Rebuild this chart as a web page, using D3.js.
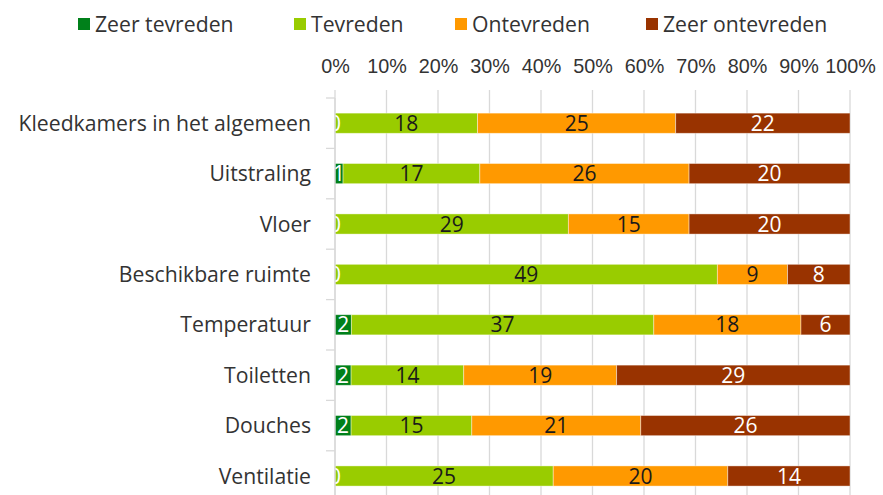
<!DOCTYPE html>
<html>
<head>
<meta charset="utf-8">
<script src="https://cdn.jsdelivr.net/npm/d3@7/dist/d3.min.js"></script>
<style>
  html, body { margin: 0; padding: 0; background: #fff; }
  svg { display: block; font-family: "Open Sans", "Noto Sans", sans-serif; }
</style>
</head>
<body>
<svg id="chart" width="883" height="495"></svg>
<script>
// Satisfaction counts per facility of the changing rooms
const categories = [
  "Kleedkamers in het algemeen",
  "Uitstraling",
  "Vloer",
  "Beschikbare ruimte",
  "Temperatuur",
  "Toiletten",
  "Douches",
  "Ventilatie"
];
const seriesNames = ["Zeer tevreden", "Tevreden", "Ontevreden", "Zeer ontevreden"];
const zeerTevreden   = [0, 1, 0, 0, 2, 2, 2, 0];
const tevreden       = [18, 17, 29, 49, 37, 14, 15, 25];
const ontevreden     = [25, 26, 15, 9, 18, 19, 21, 20];
const zeerOntevreden = [22, 20, 20, 8, 6, 29, 26, 14];
const tickValues = [0, 0.1, 0.2, 0.3, 0.4, 0.5, 0.6, 0.7, 0.8, 0.9, 1];

const colors = ["#00801a", "#99cc00", "#ff9900", "#993300"];
const labelColors = ["#ffffff", "#1a1a1a", "#1a1a1a", "#ffffff"];

const svg = d3.select("#chart");
const plotLeft = 335, plotRight = 850, plotTop = 98, rowH = 50.4;
const plotBottom = plotTop + rowH * categories.length;

const rows = categories.map((c, i) => {
  const vals = [zeerTevreden[i], tevreden[i], ontevreden[i], zeerOntevreden[i]];
  const total = d3.sum(vals);
  const r = { category: c, total };
  seriesNames.forEach((s, k) => { r[s] = vals[k] / total; r[s + "_n"] = vals[k]; });
  return r;
});

const x = d3.scaleLinear().domain([0, 1]).range([plotLeft, plotRight]);
const y = d3.scaleBand().domain(categories).range([plotTop, plotBottom]).paddingInner(0.6).paddingOuter(0.3);

// Vertical gridlines
svg.append("g")
  .selectAll("line")
  .data(tickValues)
  .join("line")
  .attr("x1", d => x(d)).attr("x2", d => x(d))
  .attr("y1", 90).attr("y2", plotBottom)
  .attr("stroke", "#d9d9d9").attr("stroke-width", 1.3);

// Percentage axis at the top
const xAxis = svg.append("g")
  .attr("transform", `translate(0,${73})`)
  .call(d3.axisTop(x).tickValues(tickValues).tickFormat(d3.format(".0%")).tickSize(0).tickPadding(0));
xAxis.select(".domain").remove();
xAxis.selectAll("text").attr("font-size", 19.8).attr("fill", "#333").attr("font-family", "inherit");

// Stacked bars
const stack = d3.stack().keys(seriesNames)(rows);
svg.append("clipPath").attr("id", "plotclip")
  .append("rect").attr("x", plotLeft).attr("y", plotTop)
  .attr("width", plotRight - plotLeft).attr("height", plotBottom - plotTop);

const plot = svg.append("g").attr("clip-path", "url(#plotclip)");

plot.append("g").selectAll("g")
  .data(stack)
  .join("g")
  .attr("fill", (layer, k) => colors[k])
  .selectAll("rect")
  .data(layer => layer)
  .join("rect")
  .attr("x", d => x(d[0]))
  .attr("y", d => y(d.data.category))
  .attr("width", d => x(d[1]) - x(d[0]))
  .attr("height", y.bandwidth())
  .attr("stroke", "#ffffff").attr("stroke-opacity", 0.5).attr("stroke-width", 0.8);

// Count labels centred in each segment, drawn above all bars
plot.append("g").selectAll("g")
  .data(stack)
  .join("g")
  .attr("fill", (layer, k) => labelColors[k])
  .each(function (layer) {
    d3.select(this).selectAll("text")
      .data(layer)
      .join("text")
      .attr("x", d => (x(d[0]) + x(d[1])) / 2)
      .attr("y", d => y(d.data.category) + y.bandwidth() / 2)
      .attr("dy", "0.36em")
      .attr("text-anchor", "middle")
      .attr("font-size", 21)
      .text(d => d.data[layer.key + "_n"]);
  });

// Category axis on the left
const yAxis = svg.append("g")
  .attr("transform", `translate(${plotLeft},0)`);
yAxis.append("line")
  .attr("x1", 0).attr("x2", 0).attr("y1", plotTop).attr("y2", plotBottom)
  .attr("stroke", "#d9d9d9").attr("stroke-width", 1.3);
yAxis.selectAll("line.tick")
  .data(d3.range(categories.length + 1))
  .join("line").attr("class", "tick")
  .attr("x1", -9).attr("x2", 0)
  .attr("y1", i => plotTop + i * rowH).attr("y2", i => plotTop + i * rowH)
  .attr("stroke", "#d9d9d9").attr("stroke-width", 1.3);
yAxis.selectAll("text")
  .data(categories)
  .join("text")
  .attr("x", -24)
  .attr("y", d => y(d) + y.bandwidth() / 2)
  .attr("dy", "0.36em")
  .attr("text-anchor", "end")
  .attr("font-size", 21.2)
  .attr("fill", "#333")
  .text(d => d);

// Legend
const legendX = [78, 294, 455, 646];
const legend = svg.append("g")
  .selectAll("g")
  .data(seriesNames)
  .join("g")
  .attr("transform", (d, i) => `translate(${legendX[i]},24)`);
legend.append("rect")
  .attr("x", 0).attr("y", -6).attr("width", 12).attr("height", 12)
  .attr("fill", (d, i) => colors[i]);
legend.append("text")
  .attr("x", 17).attr("y", 0).attr("dy", "0.36em")
  .attr("font-size", 21.2).attr("fill", "#333")
  .text(d => d);
</script>
</body>
</html>
